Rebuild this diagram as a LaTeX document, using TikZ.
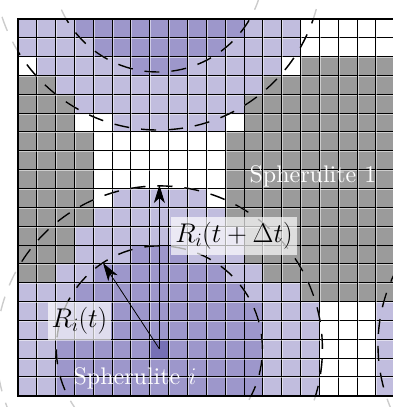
\RequirePackage{fix-cm}
\documentclass[tikz,border=0pt]{standalone}
\usepackage{fontspec}
\setmainfont{lmroman10-regular.otf}
\usetikzlibrary{arrows.meta}
\definecolor{cL}{RGB}{193,189,222}
\definecolor{cM}{RGB}{157,151,203}
\definecolor{cD}{RGB}{118,112,181}
\definecolor{cG}{RGB}{155,155,155}
\definecolor{cW}{RGB}{255,255,255}
\tikzset{
 gridline/.style={black, line width=0.55pt},
 gridlight/.style={white, opacity=0.5, line width=0.7pt},
 circ/.style={line width=1.4pt, dash pattern=on 15pt off 12pt},
 faint/.style={circ, black!20},
 arr/.style={-{Stealth[length=18pt,width=11pt,inset=5pt]}, line width=0.8pt},
 lbl/.style={fill=white, fill opacity=0.68, text opacity=1, inner xsep=4pt, inner ysep=5.5pt, font=\fontsize{27}{32}\selectfont},
 sph/.style={white, font=\fontsize{24}{28}\selectfont, anchor=base},
}
\begin{document}
\begin{tikzpicture}[x=1pt,y=-1pt]
\useasboundingbox (0,0) rectangle (393,407);
% cells
\foreach \r/\row in {
0/{L,L,L,M,M,M,M,M,M,M,M,M,L,L,L,W,W,W,W,W},
1/{L,L,L,L,M,M,M,M,M,M,M,L,L,L,L,W,W,W,W,W},
2/{W,L,L,L,L,L,M,M,M,L,L,L,L,L,W,G,G,G,G,G},
3/{G,G,L,L,L,L,L,L,L,L,L,L,L,G,G,G,G,G,G,G},
4/{G,G,G,L,L,L,L,L,L,L,L,L,G,G,G,G,G,G,G,G},
5/{G,G,G,W,W,L,L,L,L,L,L,W,G,G,G,G,G,G,G,G},
6/{G,G,G,G,W,W,W,W,W,W,W,G,G,G,G,G,G,G,G,G},
7/{G,G,G,G,W,W,W,W,W,W,W,G,G,G,G,G,G,G,G,G},
8/{G,G,G,G,W,W,W,W,W,W,W,G,G,G,G,G,G,G,G,G},
9/{G,G,G,G,W,L,L,L,L,L,W,G,G,G,G,G,G,G,G,G},
10/{G,G,G,G,L,L,L,L,L,L,L,G,G,G,G,G,G,G,G,G},
11/{G,G,G,L,L,L,L,L,L,L,L,L,G,G,G,G,G,G,G,G},
12/{G,G,G,L,L,L,M,M,M,L,L,L,G,G,G,G,G,G,G,G},
13/{G,G,L,L,M,M,M,M,M,M,M,L,L,G,G,G,G,G,G,G},
14/{L,L,L,M,M,M,M,M,M,M,M,M,L,L,L,G,G,G,G,G},
15/{L,L,M,M,M,M,M,M,M,M,M,M,M,L,L,L,W,W,W,L},
16/{L,L,M,M,M,M,M,M,M,M,M,M,M,L,L,L,W,W,W,L},
17/{L,L,M,M,M,M,M,D,M,M,M,M,M,L,L,L,W,W,W,L},
18/{L,L,M,M,M,M,M,M,M,M,M,M,M,L,L,L,W,W,W,L},
19/{L,L,M,M,M,M,M,M,M,M,M,M,M,L,L,L,W,W,W,L}}{
  \foreach \c [count=\ci from 0] in \row {
    \fill[c\c] ({18+\ci*18.85},{19+\r*18.85}) rectangle ++(18.85,18.85);
  }
}
% grid
\foreach \i in {1,...,19} {
  \draw[gridlight] ({18.6+\i*18.85},19) -- ({18.6+\i*18.85},396);
  \draw[gridlight] (18,{19.6+\i*18.85}) -- (395,{19.6+\i*18.85});
  \draw[gridline] ({17.6+\i*18.85},19) -- ({17.6+\i*18.85},396);
  \draw[gridline] (18,{18.6+\i*18.85}) -- (395,{18.6+\i*18.85});
}
\draw[line width=1.5pt] (262.6,113.25) -- (262.6,217);
% circle centres and arrow ends
\coordinate (cj) at (158,-34);
\coordinate (ci) at (159.4,348.9);
\coordinate (ck) at (541,345);
\coordinate (tipA) at (159.4,185);
\coordinate (tipB) at (103,263);
% faint full circles
\draw[faint] (cj) circle[radius=106pt];
\draw[faint] (cj) circle[radius=164pt];
\draw[faint] (ci) circle[radius=103pt];
\draw[faint] (ci) circle[radius=163pt];
\draw[faint] (ck) circle[radius=163pt];
% clipped black circles
\begin{scope}
\clip (18,19) rectangle (395,396);
\draw[circ] (cj) circle[radius=106pt];
\draw[circ] (cj) circle[radius=164pt];
\draw[circ] (ci) circle[radius=103pt];
\draw[circ] (ci) circle[radius=163pt];
\draw[circ] (ck) circle[radius=163pt];
\end{scope}
% frame
\draw[line width=2pt] (18,19) rectangle (395,396);
% arrows
\draw[arr] (ci) -- (tipA);
\draw[arr] (ci) -- (tipB);
% labels
\node[lbl] (lA) at (234,236) {$R_i(t+\Delta t)$};
\node[lbl] (lB) at (79.5,321) {$R_i(t)$};
\node[sph] (s1) at (313,182) {Spherulite 1};
\node[sph] (si) at (135,384) {Spherulite $i$};
\end{tikzpicture}
\end{document}
